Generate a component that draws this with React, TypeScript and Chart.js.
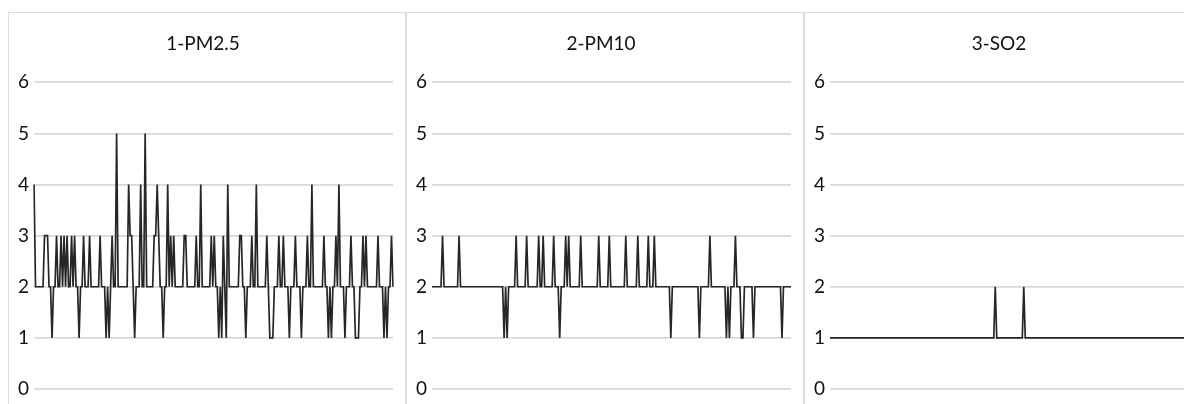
import React, { useEffect, useRef } from "react";
import { Chart, registerables } from "chart.js";

Chart.register(...registerables);

const panelTitles = ["1-PM2.5", "2-PM10", "3-SO2"];
const yTickMin = 0;
const yTickMax = 6;
const hours = Array.from({ length: 240 }, (_, i) => String(i + 1));

const pm25 = [
  4, 2, 2, 2, 2, 2, 2, 3, 3, 3, 2, 2, 1, 2, 2, 3, 2, 2, 3, 2,
  3, 2, 3, 2, 2, 3, 2, 3, 2, 2, 1, 2, 2, 3, 2, 2, 2, 3, 2, 2,
  2, 2, 2, 2, 3, 2, 2, 2, 1, 2, 1, 2, 3, 2, 2, 5, 2, 2, 2, 2,
  2, 2, 2, 4, 3, 3, 2, 1, 2, 2, 2, 4, 2, 2, 5, 2, 2, 2, 2, 2,
  3, 3, 4, 3, 2, 2, 1, 2, 2, 4, 2, 3, 2, 3, 2, 2, 2, 2, 2, 2,
  3, 3, 2, 2, 2, 2, 2, 2, 3, 2, 2, 4, 2, 2, 2, 2, 2, 2, 3, 2,
  3, 2, 2, 1, 2, 1, 3, 2, 1, 4, 2, 2, 2, 2, 2, 2, 2, 3, 3, 2,
  2, 1, 2, 2, 2, 3, 2, 2, 4, 2, 2, 2, 2, 2, 2, 3, 2, 1, 1, 1,
  2, 2, 2, 3, 2, 2, 3, 2, 2, 2, 1, 2, 2, 2, 3, 2, 2, 2, 1, 2,
  2, 2, 3, 2, 2, 4, 2, 2, 2, 2, 2, 2, 2, 3, 2, 2, 1, 2, 1, 2,
  2, 3, 2, 4, 2, 2, 2, 1, 2, 2, 2, 3, 2, 2, 1, 1, 1, 2, 2, 3,
  2, 3, 2, 2, 2, 2, 2, 2, 2, 3, 2, 2, 2, 1, 2, 1, 2, 2, 3, 2,
];

const pm10 = [
  2, 2, 2, 2, 2, 2, 2, 3, 2, 2, 2, 2, 2, 2, 2, 2, 2, 2, 3, 2,
  2, 2, 2, 2, 2, 2, 2, 2, 2, 2, 2, 2, 2, 2, 2, 2, 2, 2, 2, 2,
  2, 2, 2, 2, 2, 2, 2, 2, 1, 2, 1, 2, 2, 2, 2, 2, 3, 2, 2, 2,
  2, 2, 2, 3, 2, 2, 2, 2, 2, 2, 2, 3, 2, 2, 3, 2, 2, 2, 2, 2,
  2, 3, 2, 2, 2, 1, 2, 2, 2, 3, 2, 3, 2, 2, 2, 2, 2, 2, 2, 3,
  2, 2, 2, 2, 2, 2, 2, 2, 2, 2, 2, 3, 2, 2, 2, 2, 2, 2, 3, 2,
  2, 2, 2, 2, 2, 2, 2, 2, 2, 3, 2, 2, 2, 2, 2, 2, 2, 3, 2, 2,
  2, 2, 2, 2, 3, 2, 2, 2, 3, 2, 2, 2, 2, 2, 2, 2, 2, 2, 2, 1,
  2, 2, 2, 2, 2, 2, 2, 2, 2, 2, 2, 2, 2, 2, 2, 2, 2, 2, 1, 2,
  2, 2, 2, 2, 2, 3, 2, 2, 2, 2, 2, 2, 2, 2, 2, 2, 1, 2, 1, 2,
  2, 2, 3, 2, 2, 2, 1, 1, 2, 2, 2, 2, 2, 2, 1, 2, 2, 2, 2, 2,
  2, 2, 2, 2, 2, 2, 2, 2, 2, 2, 2, 2, 2, 1, 2, 2, 2, 2, 2, 2,
];

const so2 = [
  1, 1, 1, 1, 1, 1, 1, 1, 1, 1, 1, 1, 1, 1, 1, 1, 1, 1, 1, 1,
  1, 1, 1, 1, 1, 1, 1, 1, 1, 1, 1, 1, 1, 1, 1, 1, 1, 1, 1, 1,
  1, 1, 1, 1, 1, 1, 1, 1, 1, 1, 1, 1, 1, 1, 1, 1, 1, 1, 1, 1,
  1, 1, 1, 1, 1, 1, 1, 1, 1, 1, 1, 1, 1, 1, 1, 1, 1, 1, 1, 1,
  1, 1, 1, 1, 1, 1, 1, 1, 1, 1, 1, 1, 1, 1, 1, 1, 1, 1, 1, 1,
  1, 1, 1, 1, 1, 1, 1, 1, 1, 1, 2, 1, 1, 1, 1, 1, 1, 1, 1, 1,
  1, 1, 1, 1, 1, 1, 1, 1, 1, 2, 1, 1, 1, 1, 1, 1, 1, 1, 1, 1,
  1, 1, 1, 1, 1, 1, 1, 1, 1, 1, 1, 1, 1, 1, 1, 1, 1, 1, 1, 1,
  1, 1, 1, 1, 1, 1, 1, 1, 1, 1, 1, 1, 1, 1, 1, 1, 1, 1, 1, 1,
  1, 1, 1, 1, 1, 1, 1, 1, 1, 1, 1, 1, 1, 1, 1, 1, 1, 1, 1, 1,
  1, 1, 1, 1, 1, 1, 1, 1, 1, 1, 1, 1, 1, 1, 1, 1, 1, 1, 1, 1,
  1, 1, 1, 1, 1, 1, 1, 1, 1, 1, 1, 1, 1, 1, 1, 1, 1, 1, 1, 1,
];

const seriesList = [pm25, pm10, so2];

const FONT = "Lato, 'Open Sans', sans-serif";

function Panel({ title, values }: { title: string; values: number[] }) {
  const ref = useRef<HTMLCanvasElement | null>(null);
  useEffect(() => {
    if (!ref.current) return;
    const chart = new Chart(ref.current, {
      type: "line",
      data: {
        labels: hours,
        datasets: [
          {
            label: title,
            data: values,
            borderColor: "#262626",
            borderWidth: 1.7,
            pointRadius: 0,
            pointHoverRadius: 0,
            tension: 0,
            fill: false,
          },
        ],
      },
      options: {
        animation: false,
        responsive: false,
        maintainAspectRatio: false,
        layout: { padding: { left: 4, right: 12, top: 0, bottom: 24 } },
        plugins: {
          legend: { display: false },
          tooltip: { enabled: false },
          title: {
            display: true,
            text: title,
            color: "#111",
            font: { family: FONT, size: 19, weight: "normal" },
            padding: { top: 19.6, bottom: 26.9 },
          },
        },
        scales: {
          x: { display: false },
          y: {
            min: yTickMin,
            max: yTickMax,
            ticks: {
              stepSize: 1,
              color: "#111",
              padding: 5,
              font: { family: FONT, size: 19 },
            },
            grid: { color: "#d9d9d9", lineWidth: 1.8, drawTicks: false },
            border: { display: false },
          },
        },
      },
    });
    return () => chart.destroy();
  }, [title, values]);
  return (
    <div
      style={{
        flex: "0 0 auto",
        width: 396,
        height: 420,
        border: "1px solid #dcdcdc",
      }}
    >
      <canvas ref={ref} width={396} height={400} style={{ display: "block" }} />
    </div>
  );
}

export default function App() {
  return (
    <>
      <style>{`html,body{overflow:hidden;}`}</style>
      <div style={{ display: "flex", marginTop: 4, width: 1194 }}>
        {panelTitles.map((t, i) => (
          <Panel key={t} title={t} values={seriesList[i]} />
        ))}
      </div>
    </>
  );
}
